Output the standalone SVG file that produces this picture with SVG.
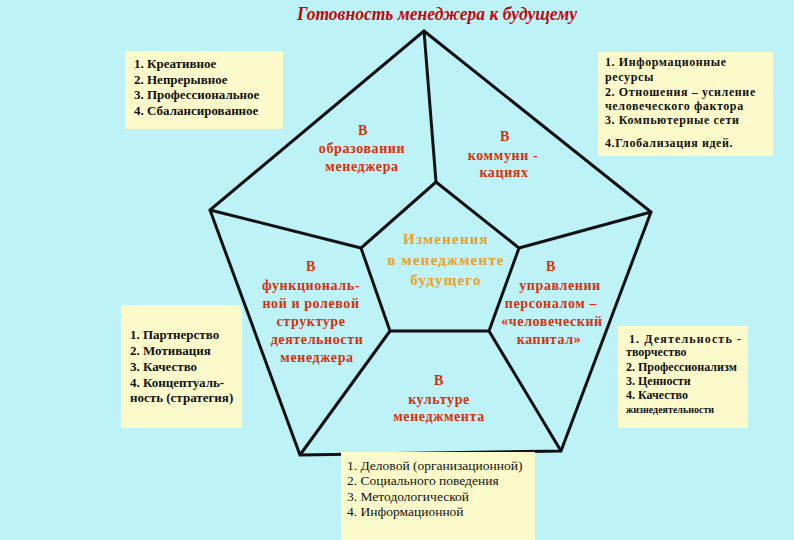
<svg xmlns="http://www.w3.org/2000/svg" width="794" height="540" viewBox="0 0 794 540">
<style>
.bg{fill:#bdf2f6}
.box{fill:#fcfacb}
.edge{fill:none;stroke:#111;stroke-width:3;stroke-linejoin:miter}
.title{font-family:"Liberation Serif",serif;font-style:italic;font-weight:bold;font-size:19px;fill:#c00808}
.lbl{font-family:"Liberation Serif",serif;font-weight:bold;font-size:14px;fill:#d8300c;text-anchor:middle;letter-spacing:0.6px}
.ctr{font-family:"Liberation Serif",serif;font-weight:bold;font-size:15px;fill:#e8a02c;text-anchor:middle;letter-spacing:1.2px}
.lst{font-family:"Liberation Serif",serif;font-weight:bold;font-size:13px;fill:#111}
.lsts{font-family:"Liberation Serif",serif;font-weight:bold;font-size:12px;fill:#111}
.wide{letter-spacing:0.6px}
.lstn{font-family:"Liberation Serif",serif;font-size:13.5px;fill:#111}
</style>
<rect class="bg" x="0" y="0" width="794" height="540"/>
<text class="title" x="297" y="20" textLength="280" lengthAdjust="spacingAndGlyphs">Готовность менеджера к будущему</text>

<g id="frame">
<polygon class="edge" points="424,31 651,212 561,451 300,455 210,210"/>
<polygon class="edge" points="436,182 519,248 489,331 390,331 361,248"/>
</g>
<g id="connectors">
<line class="edge" x1="424" y1="31" x2="436" y2="182"/>
<line class="edge" x1="651" y1="212" x2="519" y2="248"/>
<line class="edge" x1="561" y1="451" x2="489" y2="331"/>
<line class="edge" x1="300" y1="455" x2="390" y2="331"/>
<line class="edge" x1="210" y1="210" x2="361" y2="248"/>
</g>

<g id="center">
<text class="ctr" x="446" y="244">Изменения</text>
<text class="ctr" x="446" y="265">в менеджменте</text>
<text class="ctr" x="446" y="285">будущего</text>
</g>
<g id="education">
<text class="lbl" x="363" y="135">В</text>
<text class="lbl" x="362" y="153">образовании</text>
<text class="lbl" x="362" y="171">менеджера</text>
</g>
<g id="communication">
<text class="lbl" x="505" y="141">В</text>
<text class="lbl" x="503" y="160">коммуни -</text>
<text class="lbl" x="504" y="177">кациях</text>
</g>
<g id="structure">
<text class="lbl" x="311" y="271">В</text>
<text class="lbl" x="311" y="290">функциональ-</text>
<text class="lbl" x="311" y="308">ной и ролевой</text>
<text class="lbl" x="311" y="326">структуре</text>
<text class="lbl" x="317" y="344">деятельности</text>
<text class="lbl" x="317" y="362">менеджера</text>
</g>
<g id="personnel">
<text class="lbl" x="551" y="271">В</text>
<text class="lbl" x="560" y="290">управлении</text>
<text class="lbl" x="551" y="308">персоналом –</text>
<text class="lbl" x="552" y="326">«человеческий</text>
<text class="lbl" x="549" y="344">капитал»</text>
</g>
<g id="culture">
<text class="lbl" x="439" y="385">В</text>
<text class="lbl" x="439" y="404">культуре</text>
<text class="lbl" x="439" y="421">менеджмента</text>
</g>

<g id="box-education">
<rect class="box" x="125" y="51" width="158" height="78"/>
<text class="lst" x="134" y="68">1. Креативное</text>
<text class="lst" x="134" y="84">2. Непрерывное</text>
<text class="lst" x="134" y="99">3. Профессиональное</text>
<text class="lst" x="134" y="115">4. Сбалансированное</text>
</g>
<g id="box-communication">
<rect class="box" x="598" y="52" width="175" height="104"/>
<text class="lsts wide" x="605" y="66">1. Информационные</text>
<text class="lsts wide" x="605" y="81">ресурсы</text>
<text class="lsts wide" x="605" y="96">2. Отношения – усиление</text>
<text class="lsts wide" x="605" y="110">человеческого фактора</text>
<text class="lsts wide" x="605" y="124">3. Компьютерные сети</text>
<text class="lsts wide" x="605" y="147">4.Глобализация идей.</text>
</g>
<g id="box-structure">
<rect class="box" x="121" y="305" width="121" height="123"/>
<text class="lst" x="130" y="339">1. Партнерство</text>
<text class="lst" x="130" y="355">2. Мотивация</text>
<text class="lst" x="130" y="371">3. Качество</text>
<text class="lst" x="130" y="387">4. Концептуаль-</text>
<text class="lst" x="130" y="402">ность (стратегия)</text>
</g>
<g id="box-personnel">
<rect class="box" x="618" y="326" width="130" height="102"/>
<text class="lsts" x="629" y="343" textLength="112">1.  Деятельность -</text>
<text class="lsts" x="626" y="356">творчество</text>
<text class="lsts" x="626" y="371">2. Профессионализм</text>
<text class="lsts" x="626" y="385">3. Ценности</text>
<text class="lsts" x="626" y="399">4. Качество</text>
<text class="lsts" x="626" y="413" style="font-size:10px">жизнедеятельности</text>
</g>
<g id="box-culture">
<rect class="box" x="341" y="452" width="194" height="88"/>
<text class="lstn" x="347" y="470">1. Деловой (организационной)</text>
<text class="lstn" x="347" y="485">2. Социального поведения</text>
<text class="lstn" x="347" y="501">3. Методологической</text>
<text class="lstn" x="347" y="516">4. Информационной</text>
</g>
</svg>
